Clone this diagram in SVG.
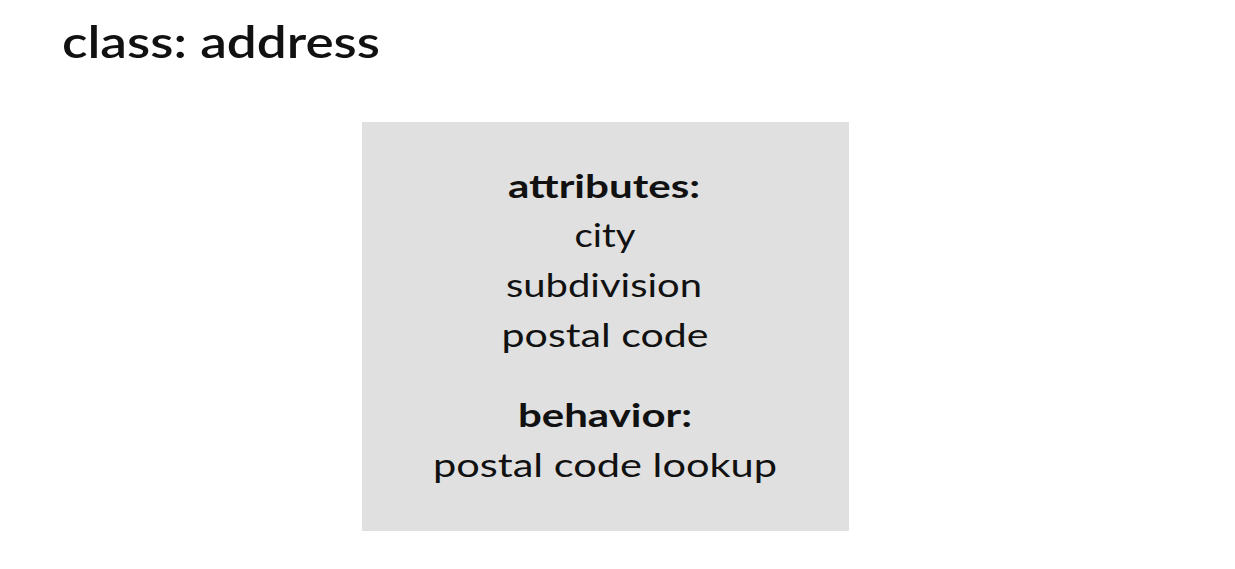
<svg xmlns="http://www.w3.org/2000/svg" width="1235" height="569" viewBox="0 0 1235 569">
<style>
.t{font-family:Lato,"Noto Sans",sans-serif;fill:#111;}
.title{font-size:44px;font-weight:600;}
.h{font-size:33px;font-weight:700;text-anchor:middle;}
.b{font-size:33px;font-weight:400;text-anchor:middle;}
</style>
<rect width="1235" height="569" fill="#ffffff"/>
<g id="title"><text class="t title" x="62" y="58" textLength="318" lengthAdjust="spacingAndGlyphs">class: address</text></g>
<g id="class-address">
<rect x="362" y="122" width="487" height="409" fill="#e0e0e0"/>
<text class="t h" x="604" y="198" textLength="192" lengthAdjust="spacingAndGlyphs">attributes:</text>
<text class="t b" x="605" y="247" textLength="61" lengthAdjust="spacingAndGlyphs">city</text>
<text class="t b" x="604" y="297" textLength="196" lengthAdjust="spacingAndGlyphs">subdivision</text>
<text class="t b" x="605" y="347" textLength="207" lengthAdjust="spacingAndGlyphs">postal code</text>
<text class="t h" x="605" y="427" textLength="174" lengthAdjust="spacingAndGlyphs">behavior:</text>
<text class="t b" x="605" y="477" textLength="344" lengthAdjust="spacingAndGlyphs">postal code lookup</text>
</g>
<g id="connectors"></g>
</svg>
